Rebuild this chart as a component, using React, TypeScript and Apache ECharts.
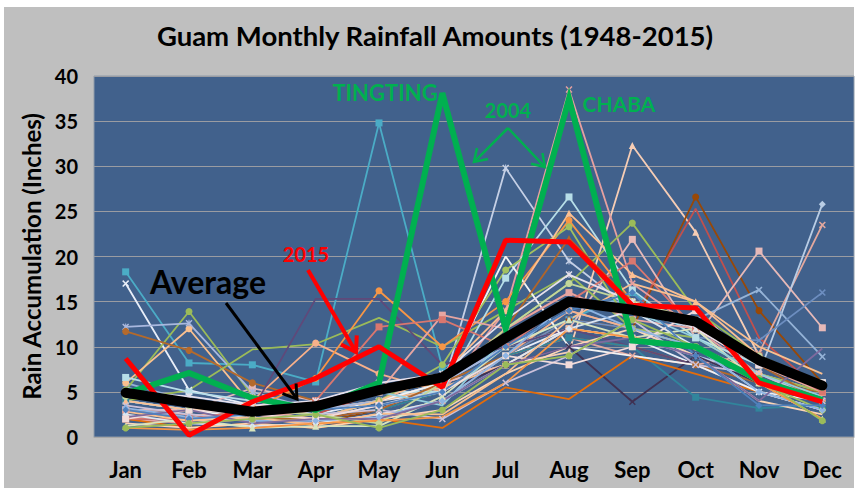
import React, { useEffect, useRef } from "react";
import * as echarts from "echarts";

const months = ["Jan", "Feb", "Mar", "Apr", "May", "Jun", "Jul", "Aug", "Sep", "Oct", "Nov", "Dec"];

const averageValues = [4.9, 3.8, 2.8, 3.4, 5.2, 6.6, 11.0, 15.0, 14.1, 12.8, 8.5, 5.7];
const values2015 = [8.7, 0.2, 3.9, 6.5, 10.0, 5.5, 21.8, 21.6, 14.6, 14.3, 6.0, 3.9];
const values2004 = [4.8, 7.1, 4.3, 3.0, 6.0, 38.1, 12.0, 37.5, 10.7, 10.0, 6.3, 4.1];

// Individual years (Jan..Dec)
const yearValues: number[][] = [
  [18.3, 8.2, 8.0, 6.1, 34.8, 7.7, 10, 13, 16, 11, 8, 6],
  [17.0, 5.2, 3.5, 2.5, 4, 5, 9, 12, 11, 8, 5, 4],
  [4, 3, 2.5, 2, 3.5, 5.3, 29.8, 19.5, 14, 12, 6, 4],
  [3, 2, 2, 3, 4, 6, 8, 9.4, 32.3, 22.7, 9, 5],
  [2, 3, 2, 1.5, 3, 5, 9, 13, 12, 26.6, 14, 6],
  [5, 4, 3, 2.5, 5, 6, 12, 16, 13, 25.3, 11, 5],
  [2, 1.5, 2, 2, 3, 5, 14, 38.5, 17, 12, 7, 4],
  [3, 2.5, 2, 1.5, 2.5, 4, 9, 11, 9, 8, 9.3, 23.5],
  [4, 3, 2, 2, 3, 6, 10, 12, 11, 9, 7, 25.8],
  [3, 3, 5.4, 4, 5, 6, 8, 12, 21.9, 11, 20.6, 12.1],
  [6, 4, 3, 3, 4, 6, 11, 15, 15, 13, 16.3, 8.9],
  [4, 3, 2.5, 2, 3, 5, 9, 13, 12, 11, 10.7, 16],
  [5.2, 13.9, 4.6, 3, 5, 6, 12, 17, 23.7, 14, 9, 6],
  [6, 12, 3.5, 3, 4, 5.5, 8, 12, 11, 10, 7, 5],
  [12.2, 12.6, 5, 3, 4, 6, 10, 14, 12, 9, 6, 4],
  [11.7, 9.6, 6, 4, 5, 6, 9, 11, 10, 8, 6, 5],
  [4, 5.2, 9.7, 10.3, 13.2, 10, 14, 18, 12, 11, 7, 5],
  [3, 2, 4, 10.4, 7, 5, 9, 14, 12, 10, 6, 4],
  [3, 2, 3, 6.5, 16.2, 10, 15, 24, 15, 13, 8, 5],
  [2, 2, 3, 15.3, 15.3, 8, 10, 12, 10, 8, 5, 3],
  [3, 2, 2, 2, 3, 5, 8, 10, 3.9, 9, 6, 4],
  [4, 3, 2, 2.5, 3, 5, 9, 11, 10, 4.4, 3.2, 3.5],
  [2, 1, 1.5, 1, 2, 1, 5.5, 4.2, 9, 7, 5, 3],
  [6.6, 5, 4, 3, 5, 5, 17.6, 26.6, 16.3, 11, 8, 6],
  [4, 3, 2, 2, 4, 6, 20.0, 10, 9, 8, 5, 3],
  [3, 2, 2, 2, 4, 8, 18.5, 23.3, 12, 10, 6, 3],
  [3, 2, 2, 2, 3, 6, 12, 22, 15, 12, 8, 4],
  [4, 3, 3, 2, 4, 7, 14, 24.8, 18, 15, 9, 5],
  [3, 2, 2, 3, 5, 13.5, 12, 16, 13, 12, 8, 5],
  [2, 2, 3, 4, 12.2, 13, 10, 15, 19.5, 12, 9, 5],
  [2.5, 1.5, 1.2, 1.5, 2.5, 4, 8, 12, 14, 10, 5, 3],
  [1.5, 1, 1.5, 1, 2, 3, 7, 10, 12, 9, 4, 2.5],
  [1.2, 2, 1, 1.2, 1.2, 4.5, 10, 13, 11, 12, 6, 2],
  [3.5, 2.5, 2, 2.5, 3, 2, 6, 9, 13, 8, 7, 4],
  [5.5, 4, 2.5, 3, 5, 3.5, 11, 15, 14, 11, 7, 4.5],
  [2, 3, 2.5, 2, 3.5, 5, 9, 8, 10, 14, 8, 6],
  [4.5, 3.5, 3, 2.5, 1.5, 6, 12, 17, 15, 13, 9, 5.5],
  [3.2, 2.2, 1.8, 1.8, 2.2, 4, 9, 15, 12, 10, 5, 3],
  [2.8, 1.8, 2.2, 1.3, 2.6, 2.5, 7, 13, 17, 15, 10, 7],
  [5, 4.5, 3.5, 4, 6, 7, 13, 18, 15, 12, 8, 6],
  [2.2, 3, 1.5, 2, 2, 4, 8, 10, 11, 9, 4, 9.8],
  [3, 2, 2.5, 3, 3.5, 5, 10, 14, 16, 9, 3.5, 3.5],
  [1, 0.8, 1, 1.5, 1.8, 2.2, 6, 12, 11, 10, 6, 2],
  [1, 1.5, 2, 2.5, 1, 3, 8, 9, 13, 10, 6.5, 1.8],
];

const yearColors = [
  "#4BACC6", "#E8EEF8", "#C5D0E6", "#F6CDB5", "#984807", "#C0504D", "#E6A0A0", "#E3A89E",
  "#B9CDE5", "#E6B9B8", "#95B3D7", "#6D8EC0", "#9BBB59", "#FAC08F", "#A9B8DE", "#B46A2C",
  "#9BBB59", "#F8B18A", "#F79646", "#5F497A", "#403152", "#31859C", "#E46C0A", "#B7DEE8",
  "#F2F2F2", "#A3C15F", "#B0652A", "#FBBF91", "#E6A5A1", "#D9776F", "#DCE6F2", "#FCD5B5",
  "#D7E4BD", "#CCC1DA", "#93CDDD", "#F2DCDB", "#C3D69B", "#8EB4E3", "#FAC090", "#E6E0EC",
  "#7F6A9E", "#4F81BD", "#F79646", "#9BBB59",
];

const X_SYM = "path://M0,1.5L1.5,0L5,3.5L8.5,0L10,1.5L6.5,5L10,8.5L8.5,10L5,6.5L1.5,10L0,8.5L3.5,5Z";
const STAR_SYM = "path://M0,1.5L1.5,0L4.3,2.8L4.3,0L5.7,0L5.7,2.8L8.5,0L10,1.5L6.5,5L10,8.5L8.5,10L5.7,7.2L5.7,10L4.3,10L4.3,7.2L1.5,10L0,8.5L3.5,5Z";

const yearSymbols = [
  "rect", X_SYM, STAR_SYM, "triangle", "circle", "none", X_SYM, X_SYM,
  "diamond", "rect", X_SYM, X_SYM, "circle", "circle", STAR_SYM, "circle",
  "none", "circle", "circle", "none", X_SYM, "rect", "none", "rect",
  "none", "circle", "triangle", "triangle", "rect", "rect", "diamond", "none",
  "triangle", X_SYM, "none", "rect", "circle", "diamond", "none", STAR_SYM,
  "none", "diamond", "none", "circle",
];

const FONT = "Lato, 'Open Sans', 'DejaVu Sans', sans-serif";

function arrow(x0: number, y0: number, x1: number, y1: number, color: string, width: number, head: number) {
  const dx = x1 - x0;
  const dy = y1 - y0;
  const len = Math.hypot(dx, dy);
  const ux = dx / len;
  const uy = dy / len;
  const bx = x1 - ux * head;
  const by = y1 - uy * head;
  const nx = -uy;
  const ny = ux;
  const w = head * 0.65;
  return [
    { type: "line", z: 100, shape: { x1: x0, y1: y0, x2: x1 - ux * 1, y2: y1 - uy * 1 }, style: { stroke: color, lineWidth: width } },
    {
      type: "polyline",
      z: 100,
      shape: { points: [[bx + nx * w, by + ny * w], [x1, y1], [bx - nx * w, by - ny * w]] },
      style: { stroke: color, lineWidth: width, fill: null, lineJoin: "miter" },
    },
  ];
}

function label(text: string, x: number, y: number, color: string, size: number) {
  return {
    type: "text",
    z: 100,
    x,
    y,
    style: {
      text,
      fill: color,
      fontSize: size,
      fontWeight: "bold",
      fontFamily: FONT,
      textAlign: "center",
      textVerticalAlign: "middle",
      align: "center",
      verticalAlign: "middle",
    },
  };
}

export default function App() {
  const ref = useRef<HTMLDivElement>(null);

  useEffect(() => {
    if (!ref.current) return;
    const chart = echarts.init(ref.current, undefined, { renderer: "svg" });

    const yearSeries = yearValues.map((vals, i) => ({
      name: "Year " + (i + 1),
      type: "line",
      data: vals,
      z: 2,
      symbol: yearSymbols[i],
      symbolSize: 7,
      showSymbol: yearSymbols[i] !== "none",
      lineStyle: { color: yearColors[i], width: 1.8 },
      itemStyle: { color: yearColors[i] },
      emphasis: { disabled: true },
    }));

    chart.setOption({
      animation: false,
      backgroundColor: "transparent",
      textStyle: { fontFamily: FONT },
      title: {
        text: "Guam Monthly Rainfall Amounts (1948-2015)",
        left: 430,
        top: 16,
        textAlign: "center",
        textStyle: { fontSize: 27.5, fontWeight: "bold", color: "#000", fontFamily: FONT },
      },
      grid: {
        left: 94,
        right: 1,
        top: 76,
        bottom: 51,
        show: true,
        backgroundColor: "#41618C",
        borderColor: "#8E9AA8",
        borderWidth: 1,
      },
      xAxis: {
        type: "category",
        data: months,
        boundaryGap: true,
        axisLine: { show: true, lineStyle: { color: "#A6A6A6", width: 1 } },
        axisTick: { show: false },
        axisLabel: { color: "#000", fontSize: 22, fontWeight: "bold", margin: 21, fontFamily: FONT },
        splitLine: { show: false },
      },
      yAxis: {
        type: "value",
        min: 0,
        max: 40,
        interval: 5,
        name: "Rain Accumulation (Inches)",
        nameLocation: "middle",
        nameRotate: 90,
        nameGap: 44,
        nameTextStyle: { color: "#000", fontSize: 24, fontWeight: "bold", fontFamily: FONT },
        axisLine: { show: false },
        axisTick: { show: false },
        axisLabel: { color: "#000", fontSize: 20, fontWeight: "bold", margin: 16, fontFamily: FONT },
        splitLine: { show: true, lineStyle: { color: "#9A9CA2", width: 1.2 } },
      },
      series: [
        ...yearSeries,
        {
          name: "2004",
          type: "line",
          data: values2004,
          z: 3,
          symbol: "none",
          lineStyle: { color: "#00B050", width: 6, join: "miter" },
          emphasis: { disabled: true },
        },
        {
          name: "2015",
          type: "line",
          data: values2015,
          z: 4,
          symbol: "none",
          lineStyle: { color: "#FF0000", width: 5 },
          emphasis: { disabled: true },
        },
        {
          name: "Average",
          type: "line",
          data: averageValues,
          z: 5,
          symbol: "none",
          lineStyle: { color: "#000000", width: 10, cap: "round", join: "round" },
          emphasis: { disabled: true },
        },
      ],
      graphic: [
        label("TINGTING", 385, 92, "#00B050", 22),
        label("2004", 508, 110, "#00B050", 20),
        label("CHABA", 619, 103, "#00B050", 21),
        label("2015", 306, 254, "#FF0000", 20),
        label("Average", 208, 281, "#000000", 32),
        ...arrow(508, 128, 474, 162, "#00B050", 2.5, 12),
        ...arrow(508, 128, 545, 167, "#00B050", 2.5, 12),
        ...arrow(308, 270, 356, 352, "#FF0000", 4, 14),
        ...arrow(226, 303, 297, 399, "#000000", 3, 13),
      ],
    });

    return () => {
      chart.dispose();
    };
  }, []);

  return (
    <div style={{ position: "fixed", left: 0, top: 0, width: 855, height: 488, background: "#FFFFFF" }}>
      <div style={{ position: "absolute", left: 4, top: 7, width: 850, height: 481, background: "#BFBFBF" }} />
      <div ref={ref} style={{ position: "absolute", left: 0, top: 0, width: 855, height: 488 }} />
    </div>
  );
}
